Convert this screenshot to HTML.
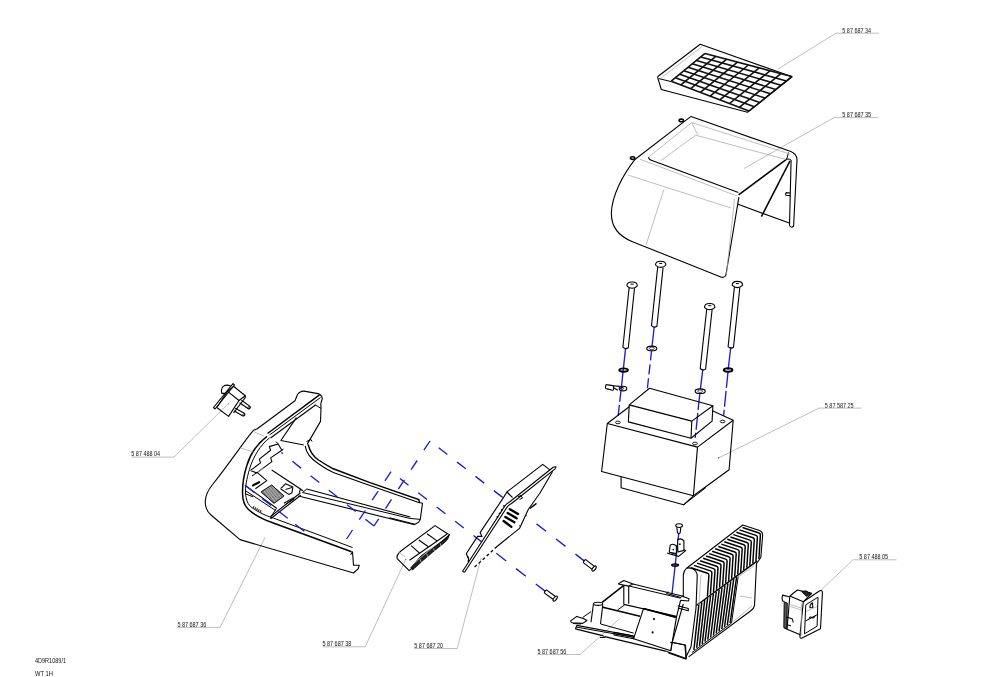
<!DOCTYPE html>
<html><head><meta charset="utf-8"><style>
html,body{margin:0;padding:0;background:#fff;}
svg{display:block;will-change:transform;}
text{font-family:"Liberation Sans",sans-serif;fill:#111;}
.k{fill:none;stroke:#000;stroke-width:1.0;}
.k1{fill:none;stroke:#000;stroke-width:1.1;stroke-linejoin:round;}
.k2{fill:none;stroke:#000;stroke-width:1.5;}
.grid{fill:none;stroke:#111;stroke-width:1.6;}
.g{fill:none;stroke:#a8a8a8;stroke-width:0.75;}
.b{fill:none;stroke:#1f1fe6;stroke-width:1.1;stroke-dasharray:7 5;}
.bv{fill:none;stroke:#1f1fe6;stroke-width:1.1;stroke-dasharray:10 4;}
.h{fill:none;stroke:#000;stroke-width:0.6;}
.bd{fill:none;stroke:#1f1fe6;stroke-width:1.1;stroke-dasharray:10 11;}
.kd{fill:none;stroke:#000;stroke-width:1.3;stroke-dasharray:3 2.5;}
.f{fill:#222;stroke:#000;stroke-width:0.8;}
.fin{fill:none;stroke:#000;stroke-width:1.45;}
.h2{fill:none;stroke:#333;stroke-width:2.2;stroke-dasharray:1.2 0.8;}
.ws{fill:none;stroke:#bbb;stroke-width:0.8;}
.kw{fill:#fff;stroke:#000;stroke-width:1.1;stroke-linejoin:round;}
.pin{fill:none;stroke:#000;stroke-width:2.3;stroke-linecap:round;}
.k3{fill:none;stroke:#000;stroke-width:2.2;stroke-linecap:round;}
.w1{fill:none;stroke:#fff;stroke-width:0.6;}
.h3{fill:#555;stroke:#000;stroke-width:0.9;}
.bs{fill:none;stroke:#1c1cd8;stroke-width:1.35;}
</style></head><body>
<div id="wrap"><svg width="1000" height="677" viewBox="0 0 1000 677">
<text x="842.3" y="32.6" font-size="6.9" textLength="28.8" lengthAdjust="spacingAndGlyphs">5 87 687 34</text>
<polyline points="879.0,33.2 836.0,33.2 778.0,69.0" class="g"/>
<text x="842.3" y="117.0" font-size="6.9" textLength="28.8" lengthAdjust="spacingAndGlyphs">5 87 687 35</text>
<polyline points="878.0,117.6 834.0,117.6 744.0,168.5" class="g"/>
<text x="824.8" y="408.3" font-size="6.9" textLength="28.8" lengthAdjust="spacingAndGlyphs">5 87 587 25</text>
<polyline points="861.4,408.1 819.0,408.1 718.5,458.0" class="g"/>
<text x="859.3" y="558.9" font-size="6.9" textLength="28.8" lengthAdjust="spacingAndGlyphs">5 87 488 05</text>
<polyline points="896.6,559.8 853.0,559.8 820.6,590.5" class="g"/>
<text x="131.3" y="455.9" font-size="6.9" textLength="28.8" lengthAdjust="spacingAndGlyphs">5 87 488 04</text>
<polyline points="131.3,457.1 174.0,457.1 228.0,404.0" class="g"/>
<text x="177.4" y="626.6" font-size="6.9" textLength="28.8" lengthAdjust="spacingAndGlyphs">5 87 687 36</text>
<polyline points="177.0,627.4 220.0,627.4 265.0,537.5" class="g"/>
<text x="322.5" y="646.3" font-size="6.9" textLength="28.8" lengthAdjust="spacingAndGlyphs">5 87 687 38</text>
<polyline points="322.5,646.8 365.2,646.8 405.8,559.2" class="g"/>
<text x="414.3" y="647.8" font-size="6.9" textLength="28.8" lengthAdjust="spacingAndGlyphs">5 87 687 20</text>
<polyline points="414.3,648.5 457.2,648.5 481.2,557.6" class="g"/>
<text x="537.5" y="654.4" font-size="6.9" textLength="28.8" lengthAdjust="spacingAndGlyphs">5 87 687 56</text>
<polyline points="537.5,654.5 580.2,654.5 619.0,619.2" class="g"/>
<text x="35" y="662.8" font-size="6.9" textLength="31.0" lengthAdjust="spacingAndGlyphs">4D9R1089/1</text>
<text x="35" y="675.7" font-size="6.9" textLength="17.8" lengthAdjust="spacingAndGlyphs">WT 1H</text>
<polyline points="657.5,76.8 700.2,44.2 792.2,76.8 747.5,112.3 661.3,89.5 657.5,76.8" class="k1"/>
<polyline points="660.5,78.5 702.0,46.5" class="g"/>
<line x1="658.8" y1="78.6" x2="671.2" y2="81.6" class="k"/>
<line x1="705.0" y1="53.4" x2="671.2" y2="81.2" class="grid"/>
<line x1="715.8" y1="56.3" x2="680.9" y2="84.9" class="grid"/>
<line x1="726.7" y1="59.2" x2="690.7" y2="88.7" class="grid"/>
<line x1="737.5" y1="62.1" x2="700.4" y2="92.4" class="grid"/>
<line x1="748.4" y1="65.0" x2="710.1" y2="96.1" class="grid"/>
<line x1="759.2" y1="67.9" x2="719.8" y2="99.8" class="grid"/>
<line x1="770.0" y1="70.8" x2="729.5" y2="103.5" class="grid"/>
<line x1="780.9" y1="73.7" x2="739.3" y2="107.3" class="grid"/>
<line x1="791.7" y1="76.6" x2="749.0" y2="111.0" class="grid"/>
<line x1="705.0" y1="53.4" x2="791.7" y2="76.6" class="grid"/>
<line x1="700.8" y1="56.9" x2="786.4" y2="80.9" class="grid"/>
<line x1="696.5" y1="60.4" x2="781.0" y2="85.2" class="grid"/>
<line x1="692.3" y1="63.8" x2="775.7" y2="89.5" class="grid"/>
<line x1="688.1" y1="67.3" x2="770.4" y2="93.8" class="grid"/>
<line x1="683.9" y1="70.8" x2="765.0" y2="98.1" class="grid"/>
<line x1="679.7" y1="74.2" x2="759.7" y2="102.4" class="grid"/>
<line x1="675.4" y1="77.7" x2="754.3" y2="106.7" class="grid"/>
<line x1="671.2" y1="81.2" x2="749.0" y2="111.0" class="grid"/>
<path d="M691,116.4 L635.2,159.2 C622,176 612,196 611.4,212.5 C611,226 618,236 632.5,241.7 L720.2,276.7 Q723.5,278.5 725.8,275.5 L738.9,197.1" class="k1"/>
<path d="M691,116.4 L790.2,151.3 Q796.5,153.5 797,159.5 L793.6,226.2 Q791.5,228.5 789.5,225.5 L791.1,160" class="k1"/>
<line x1="788.5" y1="152.5" x2="786.7" y2="159.2" class="k"/>
<path d="M786.7,159.2 Q789.5,158.5 791.1,160" class="k"/>
<line x1="738.6" y1="194.8" x2="786.7" y2="159.2" class="k2"/>
<line x1="761.4" y1="216.6" x2="790.0" y2="160.8" class="k2"/>
<line x1="737.4" y1="204.1" x2="790.0" y2="223.3" class="k1"/>
<path d="M790.2,193.0 L786.2,192.6 Q784.8,193.8 786,195.3 L790.2,195.6" class="k1"/>
<path d="M648.5,157.2 Q649,160 652,160.5 L738.4,192.6" class="k1"/>
<polyline points="648.5,157.2 691.7,122.6 790.0,154.0" class="g"/>
<polyline points="661.1,160.5 695.7,135.2 786.0,159.5" class="g"/>
<line x1="691.7" y1="122.6" x2="697.7" y2="134.6" class="g"/>
<line x1="640.0" y1="159.2" x2="737.0" y2="196.0" class="g"/>
<line x1="628.0" y1="175.1" x2="731.0" y2="208.0" class="g"/>
<line x1="663.8" y1="189.7" x2="646.0" y2="245.0" class="g"/>
<line x1="726.5" y1="274.0" x2="734.5" y2="199.0" class="g"/>
<ellipse cx="681.3" cy="120.4" rx="2.2" ry="1.3" fill="none" stroke="#000" stroke-width="1.6"/>
<ellipse cx="632.6" cy="158.1" rx="2.2" ry="1.3" fill="none" stroke="#000" stroke-width="1.6"/>
<line x1="625.6" y1="348.0" x2="621.2" y2="389.0" class="bs"/>
<path d="M621.0,391.0L619.7,401.9M619.4,404.9L618.1,415.8" class="bs"/>
<line x1="654.2" y1="327.0" x2="651.8" y2="348.4" class="bs"/>
<path d="M651.6,350.5L650.5,360.4M650.1,364.4L648.9,374.4M648.5,378.3L647.4,388.3" class="bs"/>
<line x1="702.9" y1="369.0" x2="700.1" y2="391.2" class="bs"/>
<path d="M699.9,393.0L698.1,409.9M697.8,412.9L696.1,429.8M695.7,432.8L695.2,438.0" class="bs"/>
<line x1="730.8" y1="347.0" x2="728.1" y2="370.0" class="bs"/>
<path d="M728.0,372.0L726.4,387.9M726.1,390.9L724.5,406.8M724.2,409.8L723.6,415.6" class="bs"/>
<path d="M629.1,287.7 L622.9,347.2 Q625.4,349.8 628.3,347.8 L634.5,288.3" class="k1"/>
<path d="M626.9,285.8 Q626.9,282.0 632.1,282.0 Q637.3,282.0 637.3,285.8 Q635.2,288.2 632.1,288.2 Q629.0,288.2 626.9,285.8 Z" class="k1"/>
<line x1="630.6" y1="284.2" x2="633.6" y2="284.2" class="k"/>
<path d="M657.7,266.9 L651.5,325.7 Q654.0,328.3 656.9,326.3 L663.1,267.5" class="k1"/>
<path d="M655.5,265.0 Q655.5,261.2 660.7,261.2 Q665.9,261.2 665.9,265.0 Q663.8,267.4 660.7,267.4 Q657.6,267.4 655.5,265.0 Z" class="k1"/>
<line x1="659.2" y1="263.4" x2="662.2" y2="263.4" class="k"/>
<path d="M706.7,309.2 L700.2,368.5 Q702.7,371.1 705.6,369.1 L712.1,309.8" class="k1"/>
<path d="M704.5,307.3 Q704.5,303.5 709.7,303.5 Q714.9,303.5 714.9,307.3 Q712.8,309.7 709.7,309.7 Q706.6,309.7 704.5,307.3 Z" class="k1"/>
<line x1="708.2" y1="305.7" x2="711.2" y2="305.7" class="k"/>
<path d="M734.4,287.1 L728.1,346.7 Q730.6,349.3 733.5,347.3 L739.8,287.7" class="k1"/>
<path d="M732.2,285.2 Q732.2,281.4 737.4,281.4 Q742.6,281.4 742.6,285.2 Q740.5,287.6 737.4,287.6 Q734.3,287.6 732.2,285.2 Z" class="k1"/>
<line x1="735.9" y1="283.6" x2="738.9" y2="283.6" class="k"/>
<ellipse cx="623.6" cy="370.1" rx="4.3" ry="1.6999999999999997" fill="none" stroke="#000" stroke-width="1.9"/>
<ellipse cx="651.8" cy="348.4" rx="5.0" ry="2.3" fill="#fff" stroke="#000" stroke-width="1.1"/>
<ellipse cx="651.8" cy="348.4" rx="2.5" ry="1.265" fill="none" stroke="#000" stroke-width="0.7"/>
<ellipse cx="700.2" cy="391.2" rx="5.0" ry="2.3" fill="#fff" stroke="#000" stroke-width="1.1"/>
<ellipse cx="700.2" cy="391.2" rx="2.5" ry="1.265" fill="none" stroke="#000" stroke-width="0.7"/>
<ellipse cx="728.1" cy="370.0" rx="4.3" ry="1.6999999999999997" fill="none" stroke="#000" stroke-width="1.9"/>
<path d="M606.6,384.6 L612.6,385.6 Q613.6,386 613.6,387 L613.5,389.6 Q613.3,390.4 612.4,390.2 L606.2,388.6 Q605.3,388.2 605.5,387.3 L605.9,385.2 Q606.1,384.5 606.6,384.6 Z" class="k1"/>
<path d="M612.8,385.7 L619.8,386.4" class="k1"/>
<path d="M613.8,388 Q615.5,389 617.9,390.3" class="k1"/>
<ellipse cx="623.0" cy="388.6" rx="3.8" ry="2.3" fill="none" stroke="#000" stroke-width="1.1"/>
<ellipse cx="621.9" cy="388.4" rx="1.7" ry="1.0" fill="none" stroke="#000" stroke-width="0.9"/>
<polyline points="607.3,423.5 629.5,406.5" class="k1"/>
<polyline points="712.9,411.0 733.2,420.3 697.5,447.1 607.3,423.5 601.6,471.5 693.4,495.8 729.1,469.8 733.2,420.3" class="k1"/>
<line x1="697.5" y1="447.1" x2="693.4" y2="495.8" class="k1"/>
<polyline points="629.2,404.9 649.5,388.3 712.9,405.7 691.8,421.1 629.2,404.9 628.4,421.9 691.0,438.2 712.1,421.1 712.9,405.7" class="k1"/>
<line x1="691.8" y1="421.1" x2="691.0" y2="438.2" class="k1"/>
<polyline points="621.1,477.1 621.1,487.7 683.6,504.8 693.4,495.8" class="k1"/>
<line x1="683.6" y1="504.8" x2="706.0" y2="487.5" class="k"/>
<ellipse cx="617.9" cy="422.4" rx="2.4" ry="1.3" fill="none" stroke="#000" stroke-width="0.9"/>
<ellipse cx="722.6" cy="421.5" rx="2.4" ry="1.3" fill="none" stroke="#000" stroke-width="0.9"/>
<ellipse cx="695.0" cy="443.5" rx="2.4" ry="1.3" fill="none" stroke="#000" stroke-width="0.9"/>
<circle cx="718.7" cy="457.8" r="0.6" fill="#333"/>
<path d="M320.8,403.6 L322.3,398.5 Q321.5,394.5 318,393.6 L304,391.1 Q300,391 297.5,394.5 L295,400.7 L257.3,428.7 L253.6,430.2 C245,440 232,460 213,484 C203,496 203,508 211,515 L240,539.6 L353.5,573 L358.3,568.6 L359.2,565.3 L353.5,565.3 L352.5,551.8 L350.6,554.7" class="k1"/>
<line x1="267.5" y1="433.5" x2="319.5" y2="394.8" class="k2"/>
<line x1="269.5" y1="435.0" x2="320.5" y2="397.5" class="k"/>
<polyline points="320.8,403.6 321.0,408.4 320.5,421.4 307.1,444.4" class="k1"/>
<line x1="270.5" y1="438.0" x2="315.5" y2="405.0" class="k1"/>
<polyline points="314.8,404.6 321.0,408.4" class="k"/>
<polyline points="306.5,441.5 311.0,439.5 312.0,441.5" class="k"/>
<polyline points="296.4,417.6 280.9,440.5 303.8,445.0" class="k1"/>
<path d="M305.2,445.9 C306,452 311,459 318.5,463.7 C323,467 328,470 333.3,472.5 L370,485.5 L418,502.2 L422.5,503.3 L420.3,519.2 L418.8,522.1 L415.1,524.3 L389.4,517.7" class="k1"/>
<path d="M308.1,444.4 C310,452 314,457 318.5,460 C323,463 328,466 333.3,468.8 L370,482.6 L418.8,499.6 L419.5,502.2" class="k2"/>
<line x1="306.8" y1="489.0" x2="410.3" y2="517.0" class="k1"/>
<line x1="302.6" y1="492.5" x2="409.9" y2="518.4" class="k"/>
<line x1="409.9" y1="518.4" x2="420.3" y2="519.4" class="k"/>
<line x1="298.4" y1="496.0" x2="414.6" y2="524.7" class="k1"/>
<polyline points="306.8,489.0 302.6,492.5" class="k"/>
<path d="M267,436.3 C257,444 250,455 247,465 C244,474 242.5,485 242.5,492.7 C242.5,500 244,505 248,509 C252,513 262,519 272.6,522.8 L351.6,551.8" class="k2"/>
<path d="M269.6,437.8 C260,445.5 254,456 250.5,466 C247.5,475 245.5,485 245.5,490.5 C245.5,498 247,503 250.5,506.5 C255,510 263,515 273.8,518.2 L352.5,547.5" class="k"/>
<polyline points="250.5,470.4 260.6,462.9 259.3,459.1 270.6,450.3 269.3,446.6 278.1,444.0 281.9,450.3 270.6,457.9 271.9,461.6 261.8,469.1 256.8,472.9 250.5,470.4" class="k1"/>
<line x1="278.1" y1="444.0" x2="276.0" y2="441.5" class="k"/>
<line x1="281.9" y1="450.3" x2="283.5" y2="449.0" class="k"/>
<line x1="252.0" y1="476.0" x2="257.0" y2="472.5" class="k"/>
<polyline points="257.1,472.4 266.8,480.6 255.4,488.7" class="k1"/>
<line x1="253.0" y1="485.4" x2="259.1" y2="482.2" class="k3"/>
<line x1="271.7" y1="470.0" x2="300.5" y2="489.0" class="k1"/>
<polyline points="299.3,492.5 300.5,489.0 303.0,491.0" class="k1"/>
<polyline points="300.5,492.8 270.9,516.3 270.9,518.5 300.8,495.2" class="k1"/>
<line x1="283.9" y1="503.3" x2="293.6" y2="497.6" class="k1"/>
<line x1="284.8" y1="504.8" x2="294.5" y2="499.0" class="k"/>
<line x1="244.9" y1="485.4" x2="276.6" y2="508.2" class="k1"/>
<line x1="244.9" y1="490.3" x2="275.7" y2="510.6" class="k"/>
<line x1="244.9" y1="493.6" x2="253.0" y2="496.8" class="k"/>
<line x1="253.0" y1="507.0" x2="262.0" y2="512.0" class="h2"/>
<line x1="276.6" y1="508.2" x2="271.0" y2="516.5" class="k"/>
<line x1="261.1" y1="491.9" x2="274.1" y2="503.3" class="h"/>
<line x1="262.0" y1="491.3" x2="274.9" y2="502.7" class="h"/>
<line x1="262.9" y1="490.8" x2="275.7" y2="502.1" class="h"/>
<line x1="263.8" y1="490.2" x2="276.6" y2="501.5" class="h"/>
<line x1="264.6" y1="489.6" x2="277.4" y2="500.9" class="h"/>
<line x1="265.5" y1="489.0" x2="278.2" y2="500.3" class="h"/>
<line x1="266.4" y1="488.4" x2="279.0" y2="499.6" class="h"/>
<line x1="267.3" y1="487.9" x2="279.8" y2="499.0" class="h"/>
<line x1="268.2" y1="487.3" x2="280.6" y2="498.4" class="h"/>
<line x1="269.1" y1="486.7" x2="281.4" y2="497.8" class="h"/>
<line x1="269.9" y1="486.1" x2="282.3" y2="497.2" class="h"/>
<line x1="270.8" y1="485.6" x2="283.1" y2="496.6" class="h"/>
<line x1="271.7" y1="485.0" x2="283.9" y2="496.0" class="h"/>
<polyline points="261.1,491.9 271.7,485.0 283.9,496.0 274.1,503.3 261.1,491.9" class="k"/>
<polyline points="280.6,488.7 285.5,483.8 292.8,487.1 292.0,492.7 288.7,494.4 280.6,488.7" class="k1"/>
<line x1="285.5" y1="489.5" x2="292.0" y2="487.5" class="k"/>
<line x1="253.6" y1="431.7" x2="264.0" y2="436.1" class="g"/>
<line x1="240.3" y1="447.9" x2="254.4" y2="452.3" class="g"/>
<line x1="258.0" y1="472.0" x2="264.0" y2="468.0" class="g"/>
<path d="M430.0,441.0L423.9,450.2M417.2,460.5L411.1,469.6M404.4,479.9L398.3,489.1M391.5,499.4L385.5,508.6M378.7,518.8L374.0,526.0" class="bs"/>
<path d="M438.7,447.8L447.4,454.5M457.1,462.1L465.8,468.8M475.5,476.4L484.2,483.1M493.9,490.6L502.6,497.4" class="bs"/>
<path d="M374.0,526.0L365.4,519.2M355.8,511.5L347.1,504.7M337.5,497.0L328.9,490.2M319.3,482.5L310.6,475.7M301.0,468.1L292.4,461.2M282.8,453.6L281.4,452.5" class="bs"/>
<path d="M391.0,471.6L384.9,480.8M378.2,491.1L372.1,500.2M365.4,510.5L359.3,519.7M352.5,530.0L346.6,539.0" class="bs"/>
<path d="M399.9,478.5L408.5,485.2M418.3,492.7L427.0,499.5M436.7,507.0L445.4,513.7M455.1,521.3L463.8,528.0M473.5,535.5L482.0,542.1" class="bs"/>
<path d="M245.5,485.5L254.6,492.6M262.1,498.4L271.2,505.5M278.7,511.3L287.7,518.3M295.2,524.2L304.3,531.2" class="bs"/>
<path d="M525.4,515.3L526.4,516.1M536.5,523.9L546.0,531.2M556.0,539.0L565.5,546.4M575.5,554.1L584.5,561.1" class="bs"/>
<path d="M496.3,553.3L506.2,561.0M516.0,568.6L525.9,576.3M535.8,584.0L545.4,591.4" class="bs"/>
<polygon points="213.5,407.5 233.0,383.6 234.5,385.0 215.0,409.0" class="k1"/>
<path d="M225.2,393.4 L221.8,393.4 Q220.6,389 223.3,386.4 Q226.5,384.0 230.6,386.0" class="k1"/>
<polyline points="216.8,407.5 227.6,391.4 239.0,400.5 228.6,416.4 216.8,407.5" class="k1"/>
<polyline points="227.6,391.4 233.5,386.3 245.3,395.7 239.0,400.5" class="k1"/>
<polyline points="245.3,395.7 245.3,397.5 233.5,413.0" class="k1"/>
<path d="M239.6,402.7 L247.9,408.5 A1.5,1.5 0 0 0 249.7,406.1 L241.4,400.3" class="k1"/>
<circle cx="248.8" cy="407.3" r="0.9" fill="none" stroke="#000" stroke-width="0.7"/>
<path d="M233.8,410.8 L242.9,415.9 A1.5,1.5 0 0 0 244.3,413.3 L235.2,408.2" class="k1"/>
<circle cx="243.6" cy="414.6" r="0.9" fill="none" stroke="#000" stroke-width="0.7"/>
<circle cx="228.3" cy="403.8" r="0.5" fill="#333"/>
<path d="M435.1,525.6 L401.5,550.5 Q396,555 397.2,558.7 L409.2,570.7 L449.5,534.7 L446.7,533.2 Z" class="k1"/>
<line x1="409.5" y1="560.3" x2="447.2" y2="534.0" class="k1"/>
<line x1="411.1" y1="545.7" x2="419.8" y2="553.4" class="k1"/>
<line x1="418.8" y1="540.0" x2="428.4" y2="546.7" class="k1"/>
<line x1="427.0" y1="533.7" x2="437.0" y2="540.9" class="k1"/>
<path d="M410.8,567.8 L421,555.8 L444.5,539.5 L449.3,535.2 Q448.5,539.5 444,543 L434,551 L423.5,560 L412.5,570 Z" class="f"/>
<line x1="419.8" y1="558.8" x2="421.5" y2="562.9" class="ws"/>
<line x1="426.6" y1="553.6" x2="428.0" y2="557.3" class="ws"/>
<line x1="433.4" y1="548.4" x2="434.5" y2="551.7" class="ws"/>
<line x1="440.2" y1="543.2" x2="441.0" y2="546.1" class="ws"/>
<line x1="410.2" y1="566.5" x2="448.8" y2="533.8" class="w1"/>
<line x1="398.5" y1="552.0" x2="405.0" y2="557.0" class="g"/>
<circle cx="405.8" cy="559.2" r="0.5" fill="#333"/>
<polyline points="512.6,497.7 506.9,492.0 542.7,464.4 550.2,470.1" class="k1"/>
<polyline points="506.9,492.0 503.9,496.9 480.1,532.6 482.0,536.4 477.6,536.4 466.9,552.7 466.3,554.0 468.8,559.0" class="k1"/>
<path d="M467.5,556 Q469.5,559 468,562" class="k1"/>
<path d="M462.5,571.5 L504.5,506.5 Q506.5,503.5 509.5,502 L553.5,467.0" class="k1"/>
<path d="M464.6,572.3 L506.8,507.5 Q508.6,505 511.5,503.5 L555.4,468.6" class="k1"/>
<polyline points="462.5,571.5 464.6,572.3" class="k1"/>
<polyline points="553.5,467.0 556.0,466.8 555.4,468.6" class="k1"/>
<polyline points="518.0,496.8 521.0,495.5 522.5,498.1 519.5,499.5" class="k"/>
<polyline points="552.7,471.3 540.0,493.0 528.4,509.2 519.5,528.4 497.0,546.5" class="k1"/>
<line x1="497.0" y1="546.5" x2="473.8" y2="567.8" class="kd"/>
<polyline points="529.9,508.5 536.5,503.3" class="k2"/>
<line x1="509.9" y1="509.2" x2="518.1" y2="514.0" class="pin"/>
<line x1="507.7" y1="512.9" x2="516.6" y2="518.3" class="pin"/>
<line x1="505.3" y1="517.0" x2="514.4" y2="522.2" class="pin"/>
<line x1="503.6" y1="521.0" x2="511.4" y2="526.8" class="pin"/>
<circle cx="504" cy="505.9" r="0.9" fill="#000"/>
<circle cx="501.8" cy="510" r="0.9" fill="#000"/>
<circle cx="499.6" cy="513.3" r="0.9" fill="#000"/>
<circle cx="497.4" cy="517" r="0.9" fill="#000"/>
<circle cx="519.5" cy="525.8" r="0.5" fill="#000"/>
<path d="M591.8,569.1 L583.3,562.6 Q583.5,560.4 585.7,559.6 L594.1,566.1" class="k1"/>
<ellipse cx="594.1" cy="568.5" rx="1.4" ry="3.0" transform="rotate(37.6 594.1 568.5)" fill="#fff" stroke="#000" stroke-width="1.1"/>
<path d="M552.9,599.2 L544.3,592.9 Q544.4,590.7 546.5,589.9 L555.1,596.2" class="k1"/>
<ellipse cx="555.2" cy="598.6" rx="1.4" ry="3.0" transform="rotate(36.3 555.2 598.6)" fill="#fff" stroke="#000" stroke-width="1.1"/>
<line x1="678.8" y1="533.0" x2="671.9" y2="594.8" class="bs"/>
<path d="M676.8,527.4 L677.5,532.8 Q678.8,534 680.2,532.8 L680.8,527.4" class="k1"/>
<ellipse cx="679.1" cy="525.6" rx="3.4" ry="1.9" fill="#fff" stroke="#000" stroke-width="1.1"/>
<path d="M677.7,548 L677.7,539.8 Q680.8,537.6 683.9,540.7 L683.9,550.4 L678,552 Z" class="kw"/>
<path d="M669.3,552.2 L670.2,545.1 Q673.3,543 676.4,546 L676.4,553.5 Z" class="kw"/>
<polyline points="667.5,552.7 667.5,553.3 678.6,556.4 685.7,550.6 683.9,549.8" class="k1"/>
<line x1="669.3" y1="552.2" x2="676.4" y2="554.5" class="k"/>
<circle cx="673.3" cy="549.6" r="0.85" fill="#000"/><circle cx="679.9" cy="544.2" r="0.85" fill="#000"/>
<ellipse cx="675.1" cy="565.1" rx="3.3" ry="1.1" fill="none" stroke="#000" stroke-width="1.6"/>
<path d="M686.6,568.2 L742.8,525 L759.5,530.5 Q763,532 762.6,536 L760.8,557.5 L756.5,563.5 L754.5,605.7 Q754,608.5 750.5,611 L688.6,656.9" class="k1"/>
<path d="M691.0,567.8 L707.5,573.3 Q709.0,573.8 708.9,575.3 L707.4,596.5" class="fin"/>
<path d="M694.0,565.4 L710.5,570.9 Q712.0,571.4 711.9,572.9 L710.4,594.3" class="fin"/>
<path d="M697.1,563.1 L713.6,568.6 Q715.1,569.1 715.0,570.6 L713.5,592.1" class="fin"/>
<path d="M700.1,560.7 L716.6,566.2 Q718.1,566.7 718.0,568.2 L716.5,589.9" class="fin"/>
<path d="M703.1,558.3 L719.6,563.8 Q721.1,564.3 721.0,565.8 L719.5,587.7" class="fin"/>
<path d="M706.2,556.0 L722.7,561.5 Q724.2,562.0 724.1,563.5 L722.6,585.5" class="fin"/>
<path d="M709.2,553.6 L725.7,559.1 Q727.2,559.6 727.1,561.1 L725.6,583.3" class="fin"/>
<path d="M712.2,551.2 L728.7,556.7 Q730.2,557.2 730.1,558.7 L728.6,581.1" class="fin"/>
<path d="M715.2,548.8 L731.7,554.3 Q733.2,554.8 733.1,556.3 L731.6,578.8" class="fin"/>
<path d="M718.3,546.5 L734.8,552.0 Q736.3,552.5 736.2,554.0 L734.7,576.6" class="fin"/>
<path d="M721.3,544.1 L737.8,549.6 Q739.3,550.1 739.2,551.6 L737.7,574.4" class="fin"/>
<path d="M724.3,541.7 L740.8,547.2 Q742.3,547.7 742.2,549.2 L740.7,572.2" class="fin"/>
<path d="M727.3,539.3 L743.8,544.8 Q745.3,545.3 745.2,546.8 L743.7,570.0" class="fin"/>
<path d="M730.4,537.0 L746.9,542.5 Q748.4,543.0 748.3,544.5 L746.8,567.8" class="fin"/>
<path d="M733.4,534.6 L749.9,540.1 Q751.4,540.6 751.3,542.1 L749.8,565.6" class="fin"/>
<path d="M736.4,532.2 L752.9,537.7 Q754.4,538.2 754.3,539.7 L752.8,563.4" class="fin"/>
<path d="M739.5,529.9 L756.0,535.4 Q757.5,535.9 757.4,537.4 L755.9,561.2" class="fin"/>
<path d="M742.5,527.5 L759.0,533.0 Q760.5,533.5 760.4,535.0 L758.9,559.0" class="fin"/>
<line x1="696.4" y1="605.5" x2="757.0" y2="561.2" class="k2"/>
<line x1="698.9" y1="604.4" x2="693.9" y2="650.0" class="fin"/>
<line x1="701.8" y1="602.3" x2="696.7" y2="647.9" class="fin"/>
<line x1="704.7" y1="600.2" x2="699.5" y2="645.8" class="fin"/>
<line x1="707.6" y1="598.1" x2="702.2" y2="643.8" class="fin"/>
<line x1="710.5" y1="596.0" x2="705.0" y2="641.7" class="fin"/>
<line x1="713.4" y1="593.9" x2="707.8" y2="639.6" class="fin"/>
<line x1="716.3" y1="591.8" x2="710.6" y2="637.5" class="fin"/>
<line x1="719.2" y1="589.7" x2="713.4" y2="635.5" class="fin"/>
<line x1="722.1" y1="587.6" x2="716.2" y2="633.4" class="fin"/>
<line x1="725.0" y1="585.5" x2="719.0" y2="631.3" class="fin"/>
<line x1="727.9" y1="583.4" x2="721.8" y2="629.2" class="fin"/>
<line x1="730.8" y1="581.3" x2="724.5" y2="627.2" class="fin"/>
<line x1="733.7" y1="579.2" x2="727.3" y2="625.1" class="fin"/>
<line x1="736.6" y1="577.1" x2="730.1" y2="623.0" class="fin"/>
<line x1="692.0" y1="652.5" x2="731.5" y2="623.0" class="k"/>
<line x1="738.2" y1="576.5" x2="731.5" y2="623.0" class="k"/>
<polyline points="738.2,577.0 754.0,566.0" class="g"/>
<line x1="740.0" y1="596.0" x2="752.0" y2="598.0" class="g"/>
<line x1="731.5" y1="623.0" x2="752.0" y2="606.0" class="g"/>
<path d="M686.6,568.2 Q692,567 695.6,571 Q697.5,573.5 697.2,577 L696,608 L691,646.8 L685.6,657.7" class="k1"/>
<path d="M670,642.2 L685.6,645 L686.3,659.2" class="k"/>
<line x1="668.5" y1="653.0" x2="686.3" y2="659.2" class="k1"/>
<path d="M686.6,568.2 Q683.5,571 683.3,575 L683.3,597.2" class="k1"/>
<line x1="683.3" y1="604.0" x2="672.4" y2="641.5" class="k1"/>
<line x1="701.0" y1="574.7" x2="698.8" y2="605.0" class="g"/>
<polyline points="618.2,584.0 623.8,580.5 633.0,584.0 628.7,586.1 618.2,584.0" class="k1"/>
<line x1="623.8" y1="586.1" x2="623.8" y2="604.4" class="k1"/>
<line x1="628.7" y1="586.1" x2="628.7" y2="603.7" class="k1"/>
<line x1="633.0" y1="584.0" x2="682.0" y2="596.0" class="k1"/>
<line x1="629.0" y1="586.0" x2="680.6" y2="598.2" class="k"/>
<polyline points="668.0,591.5 666.5,593.5 681.0,597.5 682.5,595.5" class="k"/>
<polyline points="682.0,596.0 689.0,598.8 688.5,601.0 680.6,600.2" class="k1"/>
<polyline points="677.8,605.8 688.3,608.5 688.3,610.7 677.8,608.0" class="k1"/>
<line x1="623.8" y1="604.4" x2="676.4" y2="616.3" class="k1"/>
<line x1="680.6" y1="600.2" x2="676.4" y2="617.7" class="k1"/>
<line x1="602.1" y1="602.3" x2="623.8" y2="585.4" class="k2"/>
<ellipse cx="598.1" cy="603.8" rx="4.6" ry="1.6" fill="#fff" stroke="#000" stroke-width="1.1"/>
<line x1="593.4" y1="604.3" x2="591.0" y2="622.3" class="k1"/>
<line x1="602.8" y1="604.8" x2="600.5" y2="624.0" class="k1"/>
<line x1="582.7" y1="617.5" x2="591.0" y2="611.6" class="k"/>
<line x1="602.8" y1="607.2" x2="640.0" y2="616.3" class="k2"/>
<polyline points="617.5,610.0 624.5,605.0" class="k"/>
<line x1="600.7" y1="624.0" x2="633.6" y2="633.1" class="k"/>
<polyline points="643.5,608.6 676.4,617.7 670.8,650.7 633.6,638.7 643.5,608.6" class="k1"/>
<line x1="643.5" y1="608.6" x2="676.4" y2="617.2" class="k2"/>
<circle cx="654" cy="619.1" r="1.05" fill="#000"/><circle cx="652.6" cy="632.4" r="1.05" fill="#000"/>
<polyline points="570.3,621.1 576.8,616.4 583.9,618.7 586.9,620.5 582.7,623.4 572.1,622.8 570.3,621.1" class="k1"/>
<line x1="573.0" y1="623.5" x2="581.0" y2="624.0" class="k"/>
<polyline points="575.4,628.9 576.8,625.4 633.6,636.0" class="k1"/>
<line x1="575.4" y1="628.9" x2="603.5" y2="635.9" class="k1"/>
<polyline points="603.5,635.9 604.9,637.5 600.0,637.5" class="k"/>
<line x1="576.0" y1="627.0" x2="633.6" y2="637.2" class="k"/>
<path d="M614,632.4 L633.6,636 L633.6,638.7 L614,635 Z" class="k1"/>
<line x1="614.0" y1="633.6" x2="633.6" y2="637.3" class="k"/>
<line x1="604.9" y1="636.6" x2="666.6" y2="651.4" class="k1"/>
<line x1="666.6" y1="651.4" x2="686.2" y2="658.4" class="k1"/>
<polyline points="672.2,642.2 684.8,645.0 686.2,658.4" class="k1"/>
<line x1="672.2" y1="642.2" x2="670.8" y2="650.7" class="k"/>
<path d="M803.3,601.8 L820.1,590.5 Q822.6,590 822.4,593 L820.5,628.8 L801.5,638.2 Q799.8,638.5 799.9,636 Z" class="k1"/>
<polyline points="805.8,604.8 818.0,597.2 817.1,626.2 804.5,633.8 805.8,604.8" class="k"/>
<line x1="801.5" y1="603.5" x2="801.2" y2="636.0" class="g"/>
<path d="M812.5,602.7 Q809.5,604.5 810,607.8 L812.8,607.5 Z" class="k1"/>
<line x1="805.5" y1="621.0" x2="817.5" y2="614.5" class="k"/>
<path d="M809,618.5 Q810.5,616 812,617.5 Q813.5,619 815,616" class="k1"/>
<line x1="806.0" y1="611.5" x2="817.0" y2="606.5" class="g"/>
<polyline points="789.8,596.0 797.4,590.0 811.7,593.4 803.3,601.8 789.8,596.0" class="k1"/>
<path d="M801.5,591.5 L806,590.8 L811,593.6 L806.5,596.5 Z" class="f"/>
<polyline points="789.8,596.0 787.0,629.5" class="k1"/>
<polyline points="784.3,628.0 800.7,635.0" class="k1"/>
<path d="M788.9,596.8 L782.6,595.1 Q781.5,598 782.6,601 L784.5,601.5" class="k1"/>
<path d="M784.2,602 L787.3,603 L786.8,628.5 L783.8,627.5 Z" class="h3"/>
<path d="M786.4,617 L792.5,619 L793.2,622.5" class="k1"/>
<line x1="787.0" y1="624.5" x2="791.0" y2="626.0" class="k"/>
<line x1="790.5" y1="604.5" x2="801.0" y2="608.0" class="g"/>
<line x1="790.5" y1="606.5" x2="801.0" y2="610.0" class="g"/>
<!--END-->
</svg></div>
</body></html>
